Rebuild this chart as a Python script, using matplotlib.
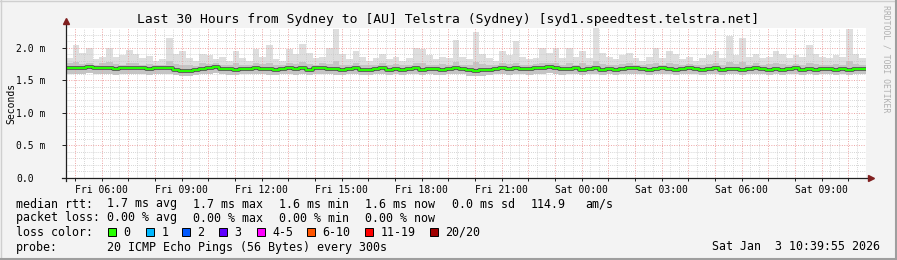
import numpy as np
import matplotlib
matplotlib.use("Agg")
import matplotlib.pyplot as plt
from matplotlib.patches import Rectangle
from matplotlib.lines import Line2D

plt.rcParams['font.family'] = ['DejaVu Sans Mono']

W, H = 897, 260

# time axis in hours from Fri 00:00
t_start = 4 + 39 / 60 + 55 / 3600
t_end = t_start + 30
step_h = 0.25

# smoke data (ms), one value per 15 min slot
median_ms = [
    1.68, 1.68, 1.69, 1.70, 1.69, 1.68, 1.68, 1.67, 1.68, 1.68, 1.69, 1.68, 1.67, 1.68, 1.68,
    1.68, 1.66, 1.64, 1.64, 1.66, 1.67, 1.68, 1.70, 1.67, 1.67, 1.66, 1.67, 1.67, 1.68, 1.67,
    1.67, 1.66, 1.67, 1.68, 1.67, 1.68, 1.66, 1.68, 1.69, 1.67, 1.67, 1.66, 1.67, 1.68, 1.66,
    1.66, 1.67, 1.68, 1.66, 1.67, 1.66, 1.67, 1.68, 1.66, 1.67, 1.67, 1.66, 1.67, 1.68, 1.67,
    1.65, 1.64, 1.65, 1.66, 1.67, 1.68, 1.67, 1.68, 1.67, 1.67, 1.68, 1.69, 1.70, 1.68, 1.67,
    1.67, 1.68, 1.66, 1.67, 1.68, 1.66, 1.67, 1.66, 1.67, 1.68, 1.69, 1.67, 1.66, 1.67, 1.68,
    1.67, 1.66, 1.67, 1.68, 1.67, 1.66, 1.67, 1.68, 1.66, 1.67, 1.67, 1.66, 1.67, 1.68, 1.67,
    1.66, 1.67, 1.66, 1.67, 1.68, 1.66, 1.67, 1.66, 1.67, 1.67, 1.66, 1.67, 1.66, 1.67, 1.67,
]
max_ms = [
    1.84, 2.04, 1.92, 1.99, 1.82, 1.86, 2.00, 1.85, 1.88, 1.96, 1.90, 1.84, 1.87, 1.80, 1.83,
    2.15, 1.90, 1.95, 1.84, 1.80, 1.90, 1.88, 1.82, 1.85, 1.80, 1.95, 1.84, 1.80, 1.98, 1.86,
    2.04, 1.83, 1.80, 1.98, 1.90, 2.06, 1.92, 1.84, 1.86, 1.99, 2.28, 1.90, 1.82, 1.95, 1.86,
    1.80, 1.84, 1.90, 1.82, 1.86, 1.80, 1.84, 2.00, 1.98, 1.88, 1.82, 1.86, 1.84, 2.12, 1.86,
    1.82, 2.24, 1.90, 1.84, 1.80, 1.94, 1.88, 2.10, 1.86, 1.82, 1.84, 2.00, 1.92, 2.00, 1.84,
    2.00, 1.86, 1.95, 1.84, 2.30, 1.92, 1.86, 1.82, 1.88, 1.92, 1.84, 1.80, 1.86, 2.00, 1.84,
    1.95, 1.90, 1.82, 1.86, 1.80, 1.84, 1.88, 1.94, 1.84, 2.17, 1.88, 2.15, 1.86, 1.90, 1.84,
    1.86, 1.95, 1.90, 1.84, 1.88, 1.86, 2.04, 1.90, 1.86, 1.84, 1.88, 1.86, 2.29, 1.90, 1.84,
]
upper_ms = [
    1.76, 1.78, 1.75, 1.77, 1.74, 1.76, 1.78, 1.75, 1.74, 1.77, 1.76, 1.74, 1.75, 1.73, 1.74,
    1.79, 1.75, 1.74, 1.73, 1.72, 1.76, 1.75, 1.77, 1.74, 1.73, 1.76, 1.74, 1.73, 1.76, 1.75,
    1.77, 1.74, 1.73, 1.76, 1.75, 1.78, 1.75, 1.74, 1.76, 1.75, 1.80, 1.74, 1.73, 1.76, 1.74,
    1.73, 1.74, 1.76, 1.73, 1.75, 1.73, 1.74, 1.77, 1.76, 1.74, 1.73, 1.75, 1.74, 1.78, 1.74,
    1.73, 1.78, 1.75, 1.74, 1.73, 1.76, 1.75, 1.77, 1.74, 1.73, 1.75, 1.77, 1.76, 1.77, 1.74,
    1.76, 1.74, 1.76, 1.74, 1.79, 1.75, 1.74, 1.73, 1.75, 1.76, 1.74, 1.73, 1.75, 1.77, 1.74,
    1.76, 1.75, 1.73, 1.75, 1.73, 1.74, 1.75, 1.76, 1.74, 1.78, 1.75, 1.78, 1.74, 1.76, 1.74,
    1.75, 1.76, 1.75, 1.74, 1.75, 1.74, 1.77, 1.75, 1.74, 1.74, 1.75, 1.74, 1.79, 1.75, 1.74,
]
min_ms = [
    1.60, 1.59, 1.60, 1.61, 1.60, 1.59, 1.60, 1.58, 1.60, 1.59, 1.60, 1.59, 1.58, 1.60, 1.59,
    1.60, 1.58, 1.56, 1.56, 1.58, 1.59, 1.60, 1.61, 1.59, 1.58, 1.58, 1.59, 1.59, 1.60, 1.59,
    1.58, 1.58, 1.59, 1.60, 1.58, 1.60, 1.58, 1.59, 1.60, 1.59, 1.58, 1.58, 1.59, 1.59, 1.58,
    1.58, 1.59, 1.60, 1.58, 1.59, 1.58, 1.59, 1.59, 1.58, 1.59, 1.58, 1.58, 1.59, 1.60, 1.59,
    1.57, 1.56, 1.57, 1.58, 1.59, 1.59, 1.58, 1.60, 1.59, 1.58, 1.60, 1.60, 1.61, 1.59, 1.58,
    1.59, 1.60, 1.58, 1.59, 1.59, 1.58, 1.59, 1.58, 1.59, 1.60, 1.60, 1.59, 1.58, 1.59, 1.60,
    1.59, 1.58, 1.59, 1.60, 1.59, 1.58, 1.59, 1.60, 1.58, 1.59, 1.59, 1.58, 1.59, 1.60, 1.59,
    1.58, 1.59, 1.58, 1.59, 1.60, 1.58, 1.59, 1.58, 1.59, 1.59, 1.58, 1.59, 1.58, 1.59, 1.59,
]

tick_hours = [6, 9, 12, 15, 18, 21, 24, 27, 30, 33]
tick_labels = ['Fri 06:00', 'Fri 09:00', 'Fri 12:00', 'Fri 15:00', 'Fri 18:00',
               'Fri 21:00', 'Sat 00:00', 'Sat 03:00', 'Sat 06:00', 'Sat 09:00']
y_ticks = [0.0, 0.5, 1.0, 1.5, 2.0]
y_labels = ['0.0', '0.5 m', '1.0 m', '1.5 m', '2.0 m']

loss_labels = ['0', '1', '2', '3', '4-5', '6-10', '11-19', '20/20']
loss_colors = ['#26ff00', '#00b8ff', '#0059ff', '#5e00ff', '#ff00ff', '#ff5500', '#ff0000', '#a00000']

title = 'Last 30 Hours from Sydney to [AU] Telstra (Sydney) [syd1.speedtest.telstra.net]'

BG = '#f3f3f3'
fig = plt.figure(figsize=(W / 100, H / 100), dpi=100, facecolor=BG)


def fx(px):
    return px / W


def fy(py):
    return 1 - py / H


ax = fig.add_axes([fx(66), fy(178), 800 / W, 150 / H])
ax.set_facecolor('white')
ax.set_xlim(t_start, t_end)
ax.set_ylim(0, 2.3)

# smoke
n = len(median_ms)
edges = t_start + step_h * np.arange(n + 1)


def ext(a):
    a = np.asarray(a, dtype=float)
    return np.append(a, a[-1])


ax.fill_between(edges, ext(min_ms), ext(max_ms), step='post', color='#dedede', lw=0, zorder=1)
ax.fill_between(edges, ext(min_ms), ext(upper_ms), step='post', color='#c4c4c4', lw=0, zorder=1)
ax.step(edges, ext(median_ms), where='post', color='#4a4a4a', lw=2.6, zorder=3)
ax.step(edges, ext(median_ms), where='post', color='#26ff00', lw=1.5, zorder=4)

# grid
minor_c = '#c8c8c8'
major_c = '#eda3a3'
for v in np.arange(0.1, 2.3, 0.1):
    if abs(v / 0.5 - round(v / 0.5)) > 1e-6:
        ax.axhline(v, color=minor_c, lw=0.6, ls=(0, (1, 1.5)), zorder=2)
for v in [0.5, 1.0, 1.5, 2.0]:
    ax.axhline(v, color=major_c, lw=0.7, ls=(0, (1, 1.5)), zorder=2)
t = np.ceil(t_start * 3) / 3
while t < t_end:
    if abs(t - round(t)) < 1e-6:
        ax.axvline(t, color=major_c, lw=0.7, ls=(0, (1, 1.5)), zorder=2)
    else:
        ax.axvline(t, color=minor_c, lw=0.6, ls=(0, (1, 1.5)), zorder=2)
    t += 1 / 3

for s in ax.spines.values():
    s.set_visible(False)

axis_c = '#1f1f1f'
arrow_c = '#801f1f'
ax.add_line(Line2D([0, 0], [-0.02, 1.04], transform=ax.transAxes, color=axis_c, lw=0.9, clip_on=False, zorder=5))
ax.add_line(Line2D([-0.005, 1.003], [0, 0], transform=ax.transAxes, color=axis_c, lw=0.9, clip_on=False, zorder=5))
ax.plot([0], [1.045], marker='^', ms=5, color=arrow_c, transform=ax.transAxes, clip_on=False, zorder=6)
ax.plot([1.006], [0], marker='>', ms=5, color=arrow_c, transform=ax.transAxes, clip_on=False, zorder=6)

ax.set_xticks(tick_hours)
ax.set_xticklabels(tick_labels, fontsize=7)
ax.set_xticks(np.arange(5, 35, 1), minor=True)
ax.tick_params(axis='x', which='both', length=2, width=0.7, color=axis_c, pad=3)
ax.set_yticks(y_ticks)
ax.set_yticklabels(y_labels, fontsize=7)
ax.tick_params(axis='y', length=3, width=0.7, color=axis_c, pad=33)
for lab in ax.get_yticklabels():
    lab.set_horizontalalignment('left')

# titles
fig.text(0.5, fy(19), title, ha='center', va='center', fontsize=9.4)
fig.text(fx(11), fy(103), 'Seconds', ha='center', va='center', rotation=90, fontsize=7)
fig.text(fx(886), fy(5), 'RRDTOOL / TOBI OETIKER', ha='center', va='top', rotation=270,
         fontsize=5.9, color='#b0b0b0')

# legend
fs = 8.4
row1 = [(16, 'median rtt:'), (107, '1.7 ms avg'), (193, '1.7 ms max'), (279, '1.6 ms min'),
        (365, '1.6 ms now'), (452, '0.0 ms sd'), (531, '114.9'), (585, 'am/s')]
row2 = [(16, 'packet loss:'), (107, '0.00 % avg'), (193, '0.00 % max'), (279, '0.00 % min'),
        (365, '0.00 % now')]
for x, s in row1:
    fig.text(fx(x), fy(204), s, ha='left', va='center', fontsize=fs)
for x, s in row2:
    fig.text(fx(x), fy(218), s, ha='left', va='center', fontsize=fs)

fig.text(fx(16), fy(232), 'loss color:', ha='left', va='center', fontsize=fs)
box_x = [108, 146, 182, 219, 257, 307, 365, 430]
for bx, lab, col in zip(box_x, loss_labels, loss_colors):
    fig.add_artist(Rectangle((fx(bx), fy(236)), 8 / W, 8 / H, transform=fig.transFigure,
                             facecolor=col, edgecolor='black', lw=0.7))
    fig.text(fx(bx + 15.5), fy(232), lab, ha='left', va='center', fontsize=fs)

fig.text(fx(16), fy(247), 'probe:', ha='left', va='center', fontsize=fs)
fig.text(fx(107), fy(247), '20 ICMP Echo Pings (56 Bytes) every 300s', ha='left', va='center', fontsize=fs)
fig.text(fx(880), fy(247), 'Sat Jan  3 10:39:55 2026', ha='right', va='center', fontsize=fs)

# frame shading
fig.add_artist(Line2D([0, 1], [fy(0.5), fy(0.5)], transform=fig.transFigure, color='#cfcfcf', lw=1))
fig.add_artist(Line2D([fx(0.5), fx(0.5)], [0, 1], transform=fig.transFigure, color='#cfcfcf', lw=1))
fig.add_artist(Line2D([0, 1], [fy(259), fy(259)], transform=fig.transFigure, color='#9e9e9e', lw=1.5))
fig.add_artist(Line2D([fx(896), fx(896)], [0, 1], transform=fig.transFigure, color='#9e9e9e', lw=1.5))

fig.savefig('out.png', dpi=100, facecolor=BG)
